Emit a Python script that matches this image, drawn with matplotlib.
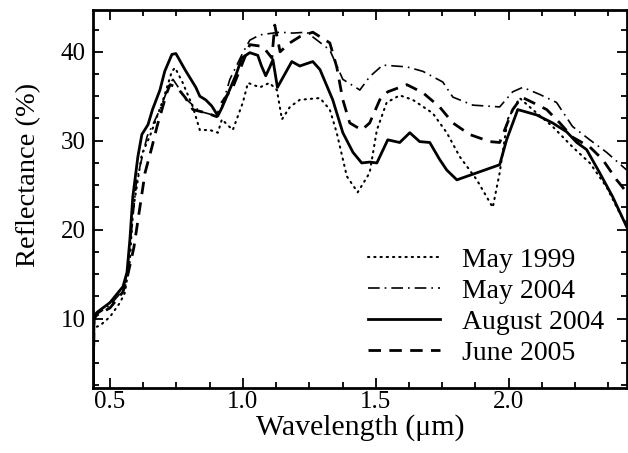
import matplotlib.pyplot as plt
from matplotlib.ticker import MultipleLocator, AutoMinorLocator

plt.rcParams['font.family'] = ['Liberation Serif', 'DejaVu Serif']

# reflectance spectra, wavelength in micrometres, reflectance in percent
wl_may1999 = [0.437, 0.44, 0.462, 0.5, 0.538, 0.556, 0.575, 0.586, 0.62, 0.65, 0.7, 0.733, 0.745,
              0.774, 0.812, 0.838, 0.876, 0.906, 0.921, 0.962, 1.0, 1.019, 1.064, 1.1, 1.128,
              1.147, 1.177, 1.214, 1.29, 1.327, 1.353, 1.391, 1.432, 1.477, 1.504, 1.541, 1.59,
              1.639, 1.714, 1.767, 1.816, 1.88, 1.94, 1.966, 1.996, 2.041, 2.09, 2.165, 2.24,
              2.305, 2.368, 2.417, 2.444]
r_may1999 = [2.3, 9.0, 9.2, 10.2, 11.8, 12.9, 16.5, 22.0, 28.5, 30.5, 34.6, 37.8, 38.2,
             36.5, 33.8, 31.2, 31.2, 30.9, 32.4, 31.2, 34.3, 36.5, 36.0, 36.5, 35.7,
             32.4, 33.8, 34.6, 34.8, 33.5, 30.9, 26.0, 24.2, 26.4, 31.2, 34.3, 35.1,
             34.6, 33.1, 30.9, 28.2, 25.6, 22.5, 26.4, 32.4, 34.8, 33.5, 31.6, 29.3,
             27.5, 24.8, 21.9, 20.6]

wl_may2004 = [0.437, 0.44, 0.451, 0.5, 0.549, 0.564, 0.58, 0.6, 0.64, 0.688, 0.726, 0.737, 0.789,
              0.838, 0.887, 0.914, 0.951, 1.0, 1.026, 1.064, 1.113, 1.14, 1.188, 1.24, 1.327,
              1.376, 1.44, 1.477, 1.526, 1.617, 1.677, 1.752, 1.79, 1.865, 1.966, 2.015,
              2.053, 2.117, 2.18, 2.24, 2.305, 2.368, 2.444]
r_may2004 = [2.3, 10.2, 10.5, 11.5, 13.2, 15.0, 19.5, 25.5, 30.5, 33.5, 36.5, 36.9, 34.6,
             33.3, 32.9, 33.1, 36.9, 39.9, 41.3, 41.9, 42.1, 42.2, 42.1, 42.2, 40.2,
             36.9, 35.7, 37.2, 38.5, 38.3, 37.8, 36.6, 34.9, 34.0, 33.8, 35.5,
             36.0, 35.2, 34.3, 31.6, 30.1, 28.7, 26.7]

wl_aug2004 = [0.437, 0.44, 0.451, 0.5, 0.549, 0.564, 0.575, 0.586, 0.605, 0.62, 0.643, 0.66, 0.688,
              0.706, 0.733, 0.748, 0.782, 0.823, 0.838, 0.86, 0.883, 0.906, 0.921, 0.944, 0.974,
              0.996, 1.026, 1.056, 1.07, 1.086, 1.1, 1.113, 1.13, 1.158, 1.184, 1.214, 1.263,
              1.29, 1.338, 1.376, 1.414, 1.447, 1.477, 1.504, 1.545, 1.59, 1.628, 1.665, 1.703,
              1.74, 1.767, 1.805, 1.966, 1.992, 2.034, 2.105, 2.165, 2.218, 2.256, 2.293,
              2.342, 2.391, 2.444]
r_aug2004 = [2.3, 10.3, 10.7, 11.8, 13.6, 15.2, 18.9, 23.7, 28.2, 30.7, 31.8, 33.5, 35.7,
             37.8, 39.7, 39.8, 38.0, 36.0, 35.0, 34.6, 33.9, 32.8, 33.7, 35.3, 37.4,
             39.3, 39.9, 39.6, 38.4, 37.3, 38.2, 39.1, 36.0, 37.5, 38.9, 38.4, 38.9,
             38.0, 34.6, 30.9, 28.7, 27.5, 27.6, 27.5, 30.1, 29.8, 30.9, 29.9, 29.8,
             27.9, 26.7, 25.6, 27.3, 30.1, 33.5, 32.9, 32.0, 31.0, 29.8, 29.0,
             26.4, 23.7, 20.3]

wl_jun2005 = [0.437, 0.44, 0.451, 0.5, 0.549, 0.564, 0.59, 0.632, 0.658, 0.677, 0.714, 0.726, 0.752,
              0.782, 0.812, 0.865, 0.902, 0.921, 0.962, 0.989, 1.026, 1.075, 1.109, 1.12, 1.14,
              1.177, 1.214, 1.263, 1.327, 1.353, 1.376, 1.402, 1.447, 1.477, 1.515, 1.545,
              1.617, 1.677, 1.74, 1.79, 1.853, 1.929, 1.966, 2.015, 2.049, 2.09, 2.143, 2.192,
              2.24, 2.305, 2.353, 2.406, 2.444]
r_jun2005 = [2.3, 10.0, 10.4, 11.2, 13.0, 14.5, 18.0, 26.4, 29.3, 31.6, 35.4, 36.3, 36.0,
             34.9, 33.5, 33.1, 32.7, 34.3, 36.0, 38.0, 40.8, 40.6, 39.3, 43.0, 40.0,
             41.0, 41.7, 42.2, 41.0, 38.3, 34.6, 32.0, 31.2, 32.0, 34.6, 35.5,
             36.3, 35.4, 33.8, 32.0, 30.7, 29.9, 29.8, 33.5, 34.9, 34.3, 33.5, 32.0,
             30.4, 29.3, 27.9, 25.6, 24.2]

labels = ['May 1999', 'May 2004', 'August 2004', 'June 2005']

fig = plt.figure(figsize=(6.28, 4.53), dpi=100)
ax = fig.add_axes([0.148, 0.1435, 0.85, 0.8345])

ax.plot(wl_may1999, r_may1999, color='black', lw=1.5, linestyle=(0, (0.6, 2.4)),
        dash_capstyle='round', label=labels[0])
ax.plot(wl_may2004, r_may2004, color='black', lw=1.2, linestyle=(0, (7, 3, 1, 3)),
        label=labels[1])
ax.plot(wl_aug2004, r_aug2004, color='black', lw=2.0, linestyle='-', label=labels[2])
ax.plot(wl_jun2005, r_jun2005, color='black', lw=2.0, linestyle=(0, (4.5, 3)), label=labels[3])

ax.set_xlim(0.436, 2.444)
ax.set_ylim(2.2, 44.7)
ax.xaxis.set_major_locator(MultipleLocator(0.5))
ax.xaxis.set_minor_locator(AutoMinorLocator(4))
ax.yaxis.set_major_locator(MultipleLocator(10))
ax.yaxis.set_minor_locator(AutoMinorLocator(4))
ax.xaxis.set_major_formatter(plt.FormatStrFormatter('%.1f'))

ax.tick_params(which='both', direction='in', top=True, right=True, width=1.3, labelsize=18)
ax.tick_params(which='major', length=7)
ax.tick_params(axis='y', which='major', pad=5)
ax.tick_params(axis='x', which='major', pad=2)
ax.tick_params(which='minor', length=4)
for s in ax.spines.values():
    s.set_linewidth(2.0)

ax.set_xlabel('Wavelength (μm)', fontsize=21.5, labelpad=1)
ax.set_ylabel('Reflectance (%)', fontsize=20.5)
ax.yaxis.set_label_coords(-0.097, 0.563)

ax.legend(loc='upper left', bbox_to_anchor=(0.515, 0.372), frameon=False, fontsize=20,
          handlelength=2.6, handletextpad=0.8, labelspacing=0.2, borderpad=0,
          borderaxespad=0)

fig.savefig('out.png', dpi=100)
